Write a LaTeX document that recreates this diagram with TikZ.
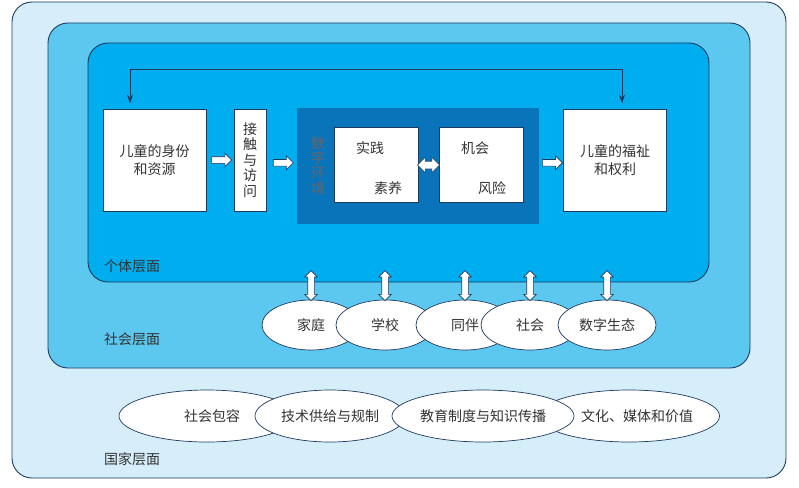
\documentclass[tikz,border=0pt]{standalone}
\usepackage{fontspec}
\setmainfont{Noto Sans CJK SC}
\usetikzlibrary{positioning,calc,shapes.geometric,shapes.arrows,arrows.meta}
\definecolor{nationFill}{HTML}{D6EEFA}
\definecolor{societyFill}{HTML}{5CC8F0}
\definecolor{personFill}{HTML}{00AEEF}
\definecolor{envFill}{HTML}{0A74BB}
\definecolor{lineNavy}{HTML}{1E3A5F}
\definecolor{textGray}{HTML}{333333}
\definecolor{envText}{HTML}{666666}
\newcommand{\blockArrow}[3]{%
  \node[arrowStyle] (#1) at ($(#2.east)!0.5!(#3.west)$) {};
}
\newcommand{\linkArrow}[1]{%
  \node[linkStyle] (#1Link) at ($(#1.north)+(0,-14)$) {};
}

\begin{document}
\begin{tikzpicture}[x=1pt,y=-1pt,%
  layerStyle/.style={draw=lineNavy,line width=0.9pt,rounded corners=20pt},%
  boxStyle/.style={draw=lineNavy,line width=0.7pt,fill=white,inner sep=0pt,text=textGray,align=center,font=\fontsize{14}{18}\selectfont},%
  ellipseStyle/.style={draw=lineNavy,line width=0.7pt,fill=white,ellipse,inner sep=0pt,text=textGray,font=\fontsize{14}{18}\selectfont},%
  labelStyle/.style={anchor=west,inner sep=0pt,text=textGray,font=\fontsize{14}{18}\selectfont},%
  arrowStyle/.style={draw=lineNavy,line width=0.6pt,fill=white,single arrow,inner sep=3pt,single arrow head extend=3.5pt,single arrow head indent=0pt,minimum height=20pt},%
  twinStyle/.style={draw=lineNavy,line width=0.6pt,fill=white,double arrow,inner sep=3.5pt,double arrow head extend=4pt,minimum height=22pt},%
  linkStyle/.style={twinStyle,rotate=90,inner sep=3pt,double arrow head extend=3pt,minimum height=30pt},%
  loopStyle/.style={draw=lineNavy,line width=0.8pt,{Stealth[length=9pt,width=6pt]}-{Stealth[length=9pt,width=6pt]},shorten <=5pt,shorten >=5pt}%
]
\useasboundingbox (0,0) rectangle (799,487);
%%
%% The three layers.
\draw[layerStyle,fill=nationFill] (12,2) rectangle (786,478);
\draw[layerStyle,fill=societyFill] (48,23) rectangle (750,368);
\draw[layerStyle,fill=personFill] (88,43) rectangle (709,282);
\node[labelStyle] (personLabel) at (104,266) {个体层面};
\node[labelStyle] (societyLabel) at (104,339) {社会层面};
\node[labelStyle] (nationLabel) at (104,459) {国家层面};
%%
%% The individual level.
\node[boxStyle,minimum width=103pt,minimum height=102pt] (ident) at (154.5,160) {儿童的身份\\和资源};
\node[boxStyle,minimum width=32pt,minimum height=102pt,font=\fontsize{14}{15.5}\selectfont] (access) at (250,160) {接\\触\\与\\访\\问};
\node[draw=envFill,fill=envFill,inner sep=0pt,minimum width=241pt,minimum height=115pt] (env) at (417.5,165.5) {};
\node[inner sep=0pt,text=envText,align=center,font=\fontsize{14}{15}\selectfont] (envLabel) at (318,166) {数\\字\\环\\境};
\node[boxStyle,minimum width=84pt,minimum height=75pt] (practice) at (376,165) {};
\node[boxStyle,minimum width=84pt,minimum height=75pt] (chance) at (481,165) {};
\node[boxStyle,minimum width=103pt,minimum height=102pt] (welfare) at (615,160) {儿童的福祉\\和权利};
\node[labelStyle,anchor=center] (practiceTop) at (370,148) {实践};
\node[labelStyle,anchor=center] (practiceLow) at (388,188) {素养};
\node[labelStyle,anchor=center] (chanceTop) at (475,148) {机会};
\node[labelStyle,anchor=center] (chanceLow) at (492,188) {风险};
%% Block arrows between the boxes.
\blockArrow{arrowOne}{ident}{access}
\blockArrow{arrowTwo}{access}{env}
\blockArrow{arrowThree}{env}{welfare}
\node[twinStyle] (arrowTwin) at ($(practice.east)!0.5!(chance.west)$) {};
%% The feedback loop.
\coordinate (loopLeft) at (130,69);
\coordinate (loopRight) at (622,69);
\draw[loopStyle] (ident.north -| loopLeft) -- (loopLeft) -- (loopRight) -- (welfare.north -| loopRight);
%%
%% The social level.
\node[ellipseStyle,minimum width=98pt,minimum height=50pt] (family) at (311,325) {家庭};
\node[ellipseStyle,minimum width=98pt,minimum height=50pt] (school) at (385,325) {学校};
\node[ellipseStyle,minimum width=98pt,minimum height=50pt] (peer) at (465,325) {同伴};
\node[ellipseStyle,minimum width=98pt,minimum height=50pt] (society) at (530,325) {社会};
\node[ellipseStyle,minimum width=98pt,minimum height=50pt] (ecology) at (607,325) {数字生态};
\linkArrow{family}
\linkArrow{school}
\linkArrow{peer}
\linkArrow{society}
\linkArrow{ecology}
%%
%% The national level.
\node[ellipseStyle,minimum width=172pt,minimum height=52pt] (culture) at (629,416) {\hspace*{16pt}文化、媒体和价值};
\node[ellipseStyle,minimum width=176pt,minimum height=52pt] (inclusion) at (207,416) {\hspace*{10pt}社会包容};
\node[ellipseStyle,minimum width=150pt,minimum height=52pt] (technology) at (330,416) {技术供给与规制};
\node[ellipseStyle,minimum width=182pt,minimum height=52pt] (education) at (483,416) {教育制度与知识传播};
\end{tikzpicture}
\end{document}
